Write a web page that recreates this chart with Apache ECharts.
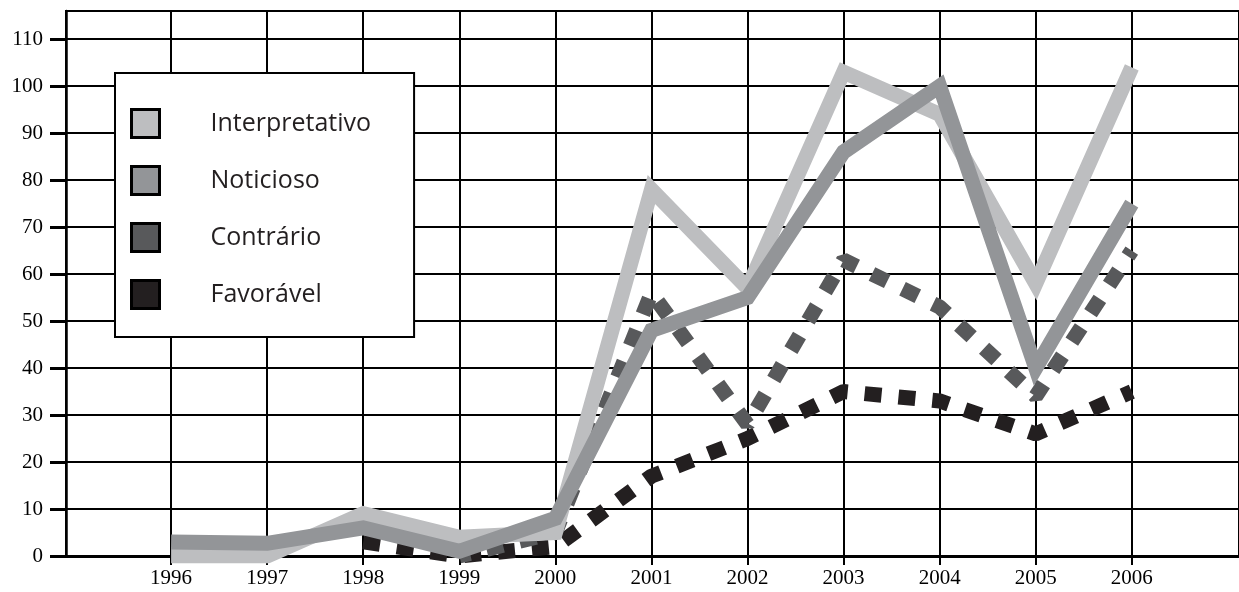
<!DOCTYPE html>
<html>
<head>
<meta charset="utf-8">
<script src="https://cdn.jsdelivr.net/npm/echarts@6/dist/echarts.min.js"></script>
<style>
  html, body { margin: 0; padding: 0; background: #fff; }
  #chart { width: 1239px; height: 592px; }
</style>
</head>
<body>
<div id="chart"></div>
<script>
const years = [1996, 1997, 1998, 1999, 2000, 2001, 2002, 2003, 2004, 2005, 2006]
const interpretativo = [0, 0, 9, 4, 5, 78, 57, 103, 94, 58, 104]
const noticioso = [3, 2.7, 6, 1, 8, 48, 55, 86, 100, 40, 75]
const contrario = [null, null, null, 0, 5, 56, 28, 63, 53, 34, 65]
const favoravel = [null, null, 3, 0, 2, 17, 25, 35, 33, 26, 35]
const yTicks = [0, 10, 20, 30, 40, 50, 60, 70, 80, 90, 100, 110]

const pairs = vals => years.map((y, i) => [y, vals[i]])

const chart = echarts.init(document.getElementById("chart"))

const serifLabel = { fontFamily: "Liberation Serif", fontSize: 21, color: "#000" }

const option = {
  animation: false,
  grid: {
    left: 66,
    right: -10,
    top: 11,
    bottom: 36,
    show: true,
    borderColor: "#000",
    borderWidth: 2
  },
  legend: {
    left: 115,
    top: 73,
    orient: "vertical",
    data: ["Interpretativo", "Noticioso", "Contrário", "Favorável"],
    icon: "rect",
    itemWidth: 28,
    itemHeight: 28,
    itemGap: 26,
    padding: [35, 43, 27, 15],
    backgroundColor: "#fff",
    borderColor: "#000",
    borderWidth: 2,
    itemStyle: { borderColor: "#000", borderWidth: 3 },
    textStyle: {
      fontFamily: "Open Sans",
      fontSize: 25,
      color: "#231f20",
      padding: [0, 0, 0, 46]
    }
  },
  xAxis: {
    type: "value",
    min: 1994.906,
    max: 2007.116,
    axisLine: { lineStyle: { color: "#000", width: 3 } },
    axisTick: {
      show: true,
      length: 9,
      customValues: years,
      lineStyle: { color: "#000", width: 2 }
    },
    axisLabel: {
      customValues: years,
      margin: 12,
      formatter: v => String(v),
      ...serifLabel
    },
    splitLine: { show: true, lineStyle: { color: "#000", width: 2 } }
  },
  yAxis: {
    type: "value",
    min: 0,
    max: 116,
    interval: 10,
    axisLine: { show: true, lineStyle: { color: "#000", width: 2.5 } },
    axisTick: { show: true, length: 16, customValues: yTicks, lineStyle: { color: "#000", width: 3 } },
    axisLabel: { customValues: yTicks, margin: 23, ...serifLabel },
    splitLine: { show: true, lineStyle: { color: "#000", width: 2 } }
  },
  series: [
    {
      name: "Favorável",
      type: "line",
      data: pairs(favoravel),
      showSymbol: false,
      z: 2,
      itemStyle: { color: "#231f20" },
      lineStyle: { color: "#231f20", width: 15, type: [17, 17], cap: "butt", join: "bevel" }
    },
    {
      name: "Contrário",
      type: "line",
      data: pairs(contrario),
      showSymbol: false,
      z: 3,
      itemStyle: { color: "#58595b" },
      lineStyle: { color: "#58595b", width: 15, type: [17, 17], dashOffset: 6, cap: "butt", join: "bevel" }
    },
    {
      name: "Interpretativo",
      type: "line",
      data: pairs(interpretativo),
      showSymbol: false,
      z: 4,
      itemStyle: { color: "#bdbec0" },
      lineStyle: { color: "#bdbec0", width: 15, join: "miter" }
    },
    {
      name: "Noticioso",
      type: "line",
      data: pairs(noticioso),
      showSymbol: false,
      z: 5,
      itemStyle: { color: "#939598" },
      lineStyle: { color: "#939598", width: 15, join: "miter" }
    }
  ]
}

chart.setOption(option)
</script>
</body>
</html>
